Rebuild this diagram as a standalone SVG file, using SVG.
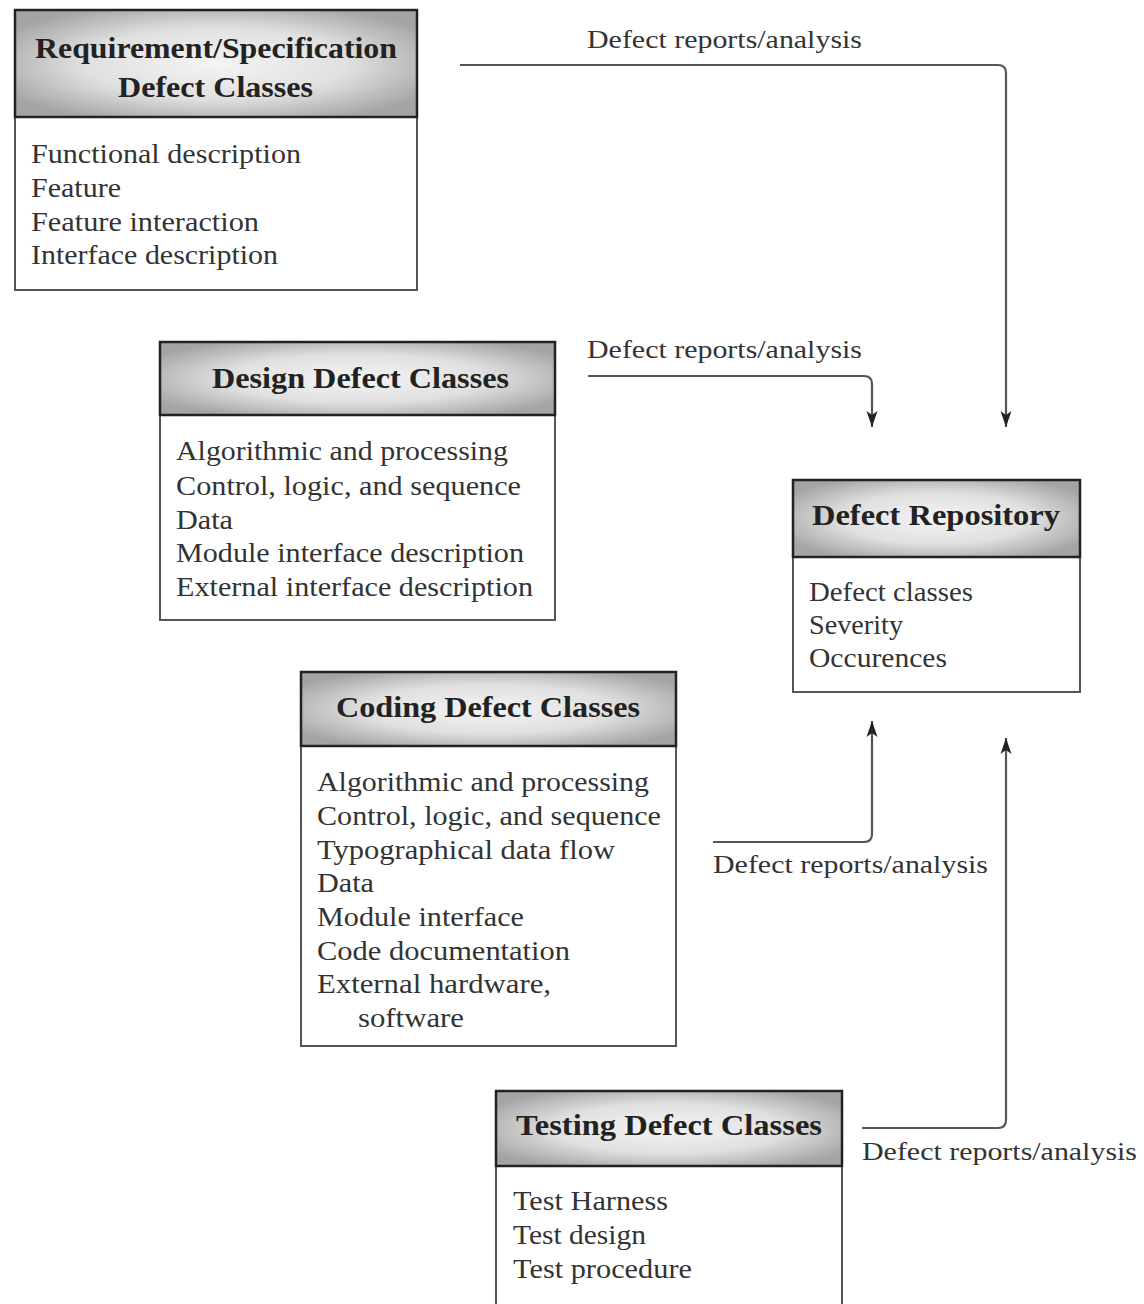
<svg xmlns="http://www.w3.org/2000/svg" width="1144" height="1304" viewBox="0 0 1144 1304">
<defs>
<radialGradient id="hdr" cx="50%" cy="50%" r="60%">
<stop offset="0" stop-color="#f4f4f4"/>
<stop offset="0.55" stop-color="#e0e0e0"/>
<stop offset="1" stop-color="#a4a4a4"/>
</radialGradient>
<marker id="ah" viewBox="0 0 16 12" refX="16" refY="6" markerWidth="16" markerHeight="12" markerUnits="userSpaceOnUse" orient="auto">
<path d="M0,0.5 L16,6 L0,11.5 L4,6 z" fill="#222"/>
</marker>
</defs>
<style>
.box{fill:#fff;stroke:#555;stroke-width:2}
.hd{fill:url(#hdr);stroke:#222;stroke-width:2.5}
.t{font-family:"Liberation Serif","Times New Roman",serif;font-size:29px;font-weight:bold;fill:#222}
.i{font-family:"Liberation Serif","Times New Roman",serif;font-size:27px;fill:#333}
.l{font-family:"Liberation Serif","Times New Roman",serif;font-size:26px;fill:#333}
.c{fill:none;stroke:#555;stroke-width:2.2}
</style>
<rect width="1144" height="1304" fill="#fff"/>

<g id="req">
<rect class="box" x="15" y="10" width="402" height="280"/>
<rect class="hd" x="15" y="10" width="402" height="107"/>
<text class="t" x="35" y="58" textLength="362" lengthAdjust="spacingAndGlyphs">Requirement/Specification</text>
<text class="t" x="118" y="97" textLength="195" lengthAdjust="spacingAndGlyphs">Defect Classes</text>
<text class="i" x="31" y="163" textLength="270" lengthAdjust="spacingAndGlyphs">Functional description</text>
<text class="i" x="31" y="197" textLength="90" lengthAdjust="spacingAndGlyphs">Feature</text>
<text class="i" x="31" y="231" textLength="228" lengthAdjust="spacingAndGlyphs">Feature interaction</text>
<text class="i" x="31" y="264" textLength="247" lengthAdjust="spacingAndGlyphs">Interface description</text>
</g>

<g id="design">
<rect class="box" x="160" y="342" width="395" height="278"/>
<rect class="hd" x="160" y="342" width="395" height="73"/>
<text class="t" x="212" y="388" textLength="297" lengthAdjust="spacingAndGlyphs">Design Defect Classes</text>
<text class="i" x="176" y="460" textLength="332" lengthAdjust="spacingAndGlyphs">Algorithmic and processing</text>
<text class="i" x="176" y="495" textLength="345" lengthAdjust="spacingAndGlyphs">Control, logic, and sequence</text>
<text class="i" x="176" y="529" textLength="57" lengthAdjust="spacingAndGlyphs">Data</text>
<text class="i" x="176" y="562" textLength="348" lengthAdjust="spacingAndGlyphs">Module interface description</text>
<text class="i" x="176" y="596" textLength="357" lengthAdjust="spacingAndGlyphs">External interface description</text>
</g>

<g id="coding">
<rect class="box" x="301" y="672" width="375" height="374"/>
<rect class="hd" x="301" y="672" width="375" height="74"/>
<text class="t" x="336" y="717" textLength="304" lengthAdjust="spacingAndGlyphs">Coding Defect Classes</text>
<text class="i" x="317" y="791" textLength="332" lengthAdjust="spacingAndGlyphs">Algorithmic and processing</text>
<text class="i" x="317" y="825" textLength="344" lengthAdjust="spacingAndGlyphs">Control, logic, and sequence</text>
<text class="i" x="317" y="859" textLength="298" lengthAdjust="spacingAndGlyphs">Typographical data flow</text>
<text class="i" x="317" y="892" textLength="57" lengthAdjust="spacingAndGlyphs">Data</text>
<text class="i" x="317" y="926" textLength="207" lengthAdjust="spacingAndGlyphs">Module interface</text>
<text class="i" x="317" y="960" textLength="253" lengthAdjust="spacingAndGlyphs">Code documentation</text>
<text class="i" x="317" y="993" textLength="234" lengthAdjust="spacingAndGlyphs">External hardware,</text>
<text class="i" x="358" y="1027" textLength="106" lengthAdjust="spacingAndGlyphs">software</text>
</g>

<g id="testing">
<rect class="box" x="496" y="1091" width="346" height="220"/>
<rect class="hd" x="496" y="1091" width="346" height="75"/>
<text class="t" x="516" y="1135" textLength="306" lengthAdjust="spacingAndGlyphs">Testing Defect Classes</text>
<text class="i" x="513" y="1210" textLength="155" lengthAdjust="spacingAndGlyphs">Test Harness</text>
<text class="i" x="513" y="1244" textLength="133" lengthAdjust="spacingAndGlyphs">Test design</text>
<text class="i" x="513" y="1278" textLength="179" lengthAdjust="spacingAndGlyphs">Test procedure</text>
</g>

<g id="repo">
<rect class="box" x="793" y="480" width="287" height="212"/>
<rect class="hd" x="793" y="480" width="287" height="77"/>
<text class="t" x="812" y="525" textLength="248" lengthAdjust="spacingAndGlyphs">Defect Repository</text>
<text class="i" x="809" y="601" textLength="164" lengthAdjust="spacingAndGlyphs">Defect classes</text>
<text class="i" x="809" y="634" textLength="94" lengthAdjust="spacingAndGlyphs">Severity</text>
<text class="i" x="809" y="667" textLength="138" lengthAdjust="spacingAndGlyphs">Occurences</text>
</g>

<g id="connectors">
<path class="c" d="M460,65 H998 Q1006,65 1006,73 V427" marker-end="url(#ah)"/>
<path class="c" d="M588,376 H864 Q872,376 872,384 V427" marker-end="url(#ah)"/>
<path class="c" d="M713,842 H864 Q872,842 872,834 V721" marker-end="url(#ah)"/>
<path class="c" d="M862,1128 H998 Q1006,1128 1006,1120 V738" marker-end="url(#ah)"/>
<text class="l" x="587" y="48" textLength="275" lengthAdjust="spacingAndGlyphs">Defect reports/analysis</text>
<text class="l" x="587" y="358" textLength="275" lengthAdjust="spacingAndGlyphs">Defect reports/analysis</text>
<text class="l" x="713" y="873" textLength="275" lengthAdjust="spacingAndGlyphs">Defect reports/analysis</text>
<text class="l" x="862" y="1160" textLength="275" lengthAdjust="spacingAndGlyphs">Defect reports/analysis</text>
</g>
</svg>
